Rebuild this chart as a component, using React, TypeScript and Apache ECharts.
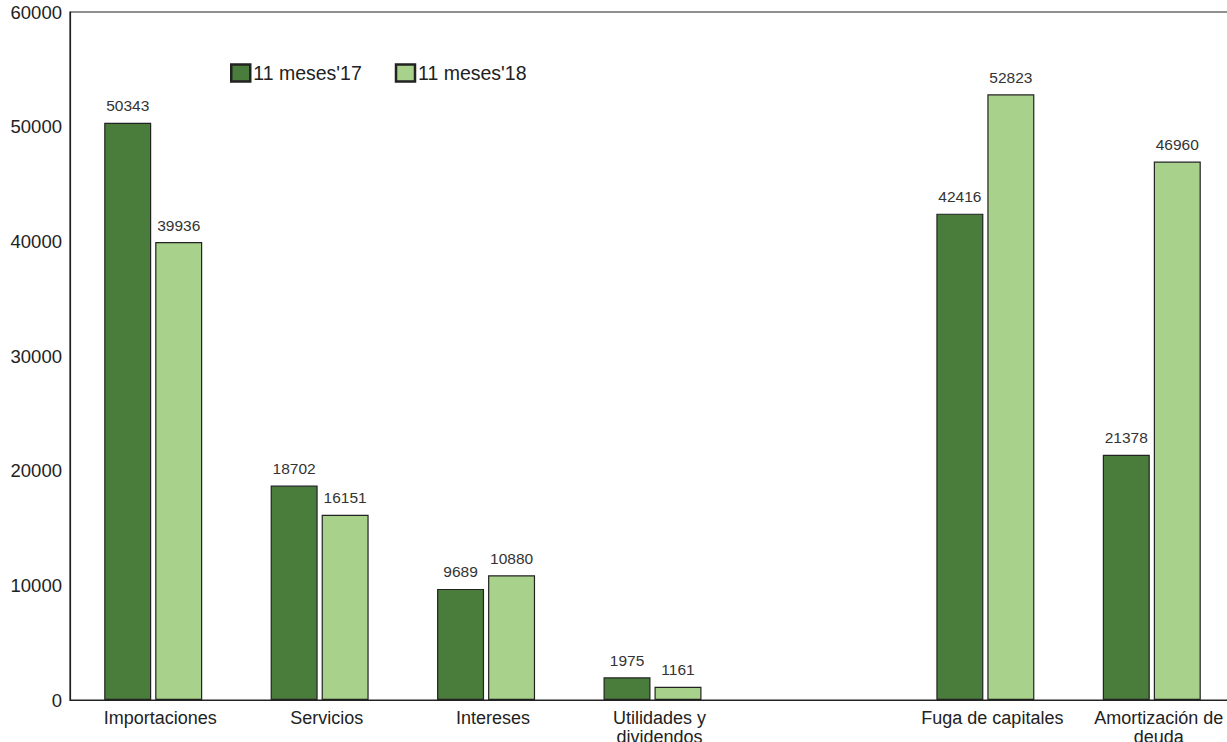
import React, { useEffect, useRef } from "react";
import * as echarts from "echarts";

// Outflow categories (the empty slot separates the two groups)
const categories = [
  "Importaciones",
  "Servicios",
  "Intereses",
  "Utilidades y\ndividendos",
  "",
  "Fuga de capitales",
  "Amortización de\ndeuda",
];

const seriesNames = ["11 meses'17", "11 meses'18"];

const values2017 = [50343, 18702, 9689, 1975, null, 42416, 21378];
const values2018 = [39936, 16151, 10880, 1161, null, 52823, 46960];

const yTicks = { min: 0, max: 60000, interval: 10000 };

const colors = ["#4a7d3b", "#a8d18b"];
const FONT = "Liberation Sans, Arial, Helvetica, sans-serif";

export default function App() {
  const ref = useRef<HTMLDivElement>(null);

  useEffect(() => {
    document.body.style.margin = "0";
    if (!ref.current) return;
    const chart = echarts.init(ref.current, null, { renderer: "svg" });

    const makeSeries = (name: string, data: (number | null)[], color: string) => ({
      name,
      type: "bar",
      data,
      barWidth: 47,
      barGap: "8.5%",
      itemStyle: { color, borderColor: "#222", borderWidth: 1.2 },
      label: {
        show: true,
        position: "top",
        distance: 9,
        fontFamily: FONT,
        fontSize: 15.5,
        color: "#333",
      },
    });

    chart.setOption({
      animation: false,
      backgroundColor: "#fff",
      textStyle: { fontFamily: FONT },
      grid: {
        left: 70,
        top: 12,
        width: 1165,
        bottom: 42,
        outerBoundsMode: "none",
        containLabel: false,
        show: true,
        borderColor: "#222",
        borderWidth: 1.2,
        backgroundColor: "transparent",
      },
      legend: {
        left: 225,
        top: 58,
        itemWidth: 19,
        itemHeight: 17,
        itemGap: 33,
        icon: "rect",
        textStyle: { fontFamily: FONT, fontSize: 19.5, color: "#222", padding: [0, 0, 0, -2] },
        data: seriesNames.map((n, i) => ({
          name: n,
          itemStyle: { color: colors[i], borderColor: "#222", borderWidth: 2.5 },
        })),
      },
      xAxis: {
        type: "category",
        data: categories,
        axisLine: { show: true, lineStyle: { color: "#222", width: 1.2 } },
        axisTick: { show: false },
        axisLabel: {
          interval: 0,
          margin: 8,
          fontFamily: FONT,
          fontSize: 18,
          color: "#222",
          lineHeight: 19,
          padding: [0, 0, 0, 14],
        },
        splitLine: { show: false },
      },
      yAxis: {
        type: "value",
        min: yTicks.min,
        max: yTicks.max,
        interval: yTicks.interval,
        axisLine: { show: true, lineStyle: { color: "#222", width: 1.2 } },
        axisTick: { show: false },
        splitLine: { show: false },
        axisLabel: {
          margin: 8,
          fontFamily: FONT,
          fontSize: 18.5,
          color: "#222",
          formatter: (v: number) => String(v),
        },
      },
      series: [
        makeSeries(seriesNames[0], values2017, colors[0]),
        makeSeries(seriesNames[1], values2018, colors[1]),
      ],
    });

    return () => chart.dispose();
  }, []);

  return (
    <div style={{ width: 1227, height: 742, overflow: "hidden", position: "relative" }}>
      <div ref={ref} style={{ width: 1260, height: 742 }} />
    </div>
  );
}
